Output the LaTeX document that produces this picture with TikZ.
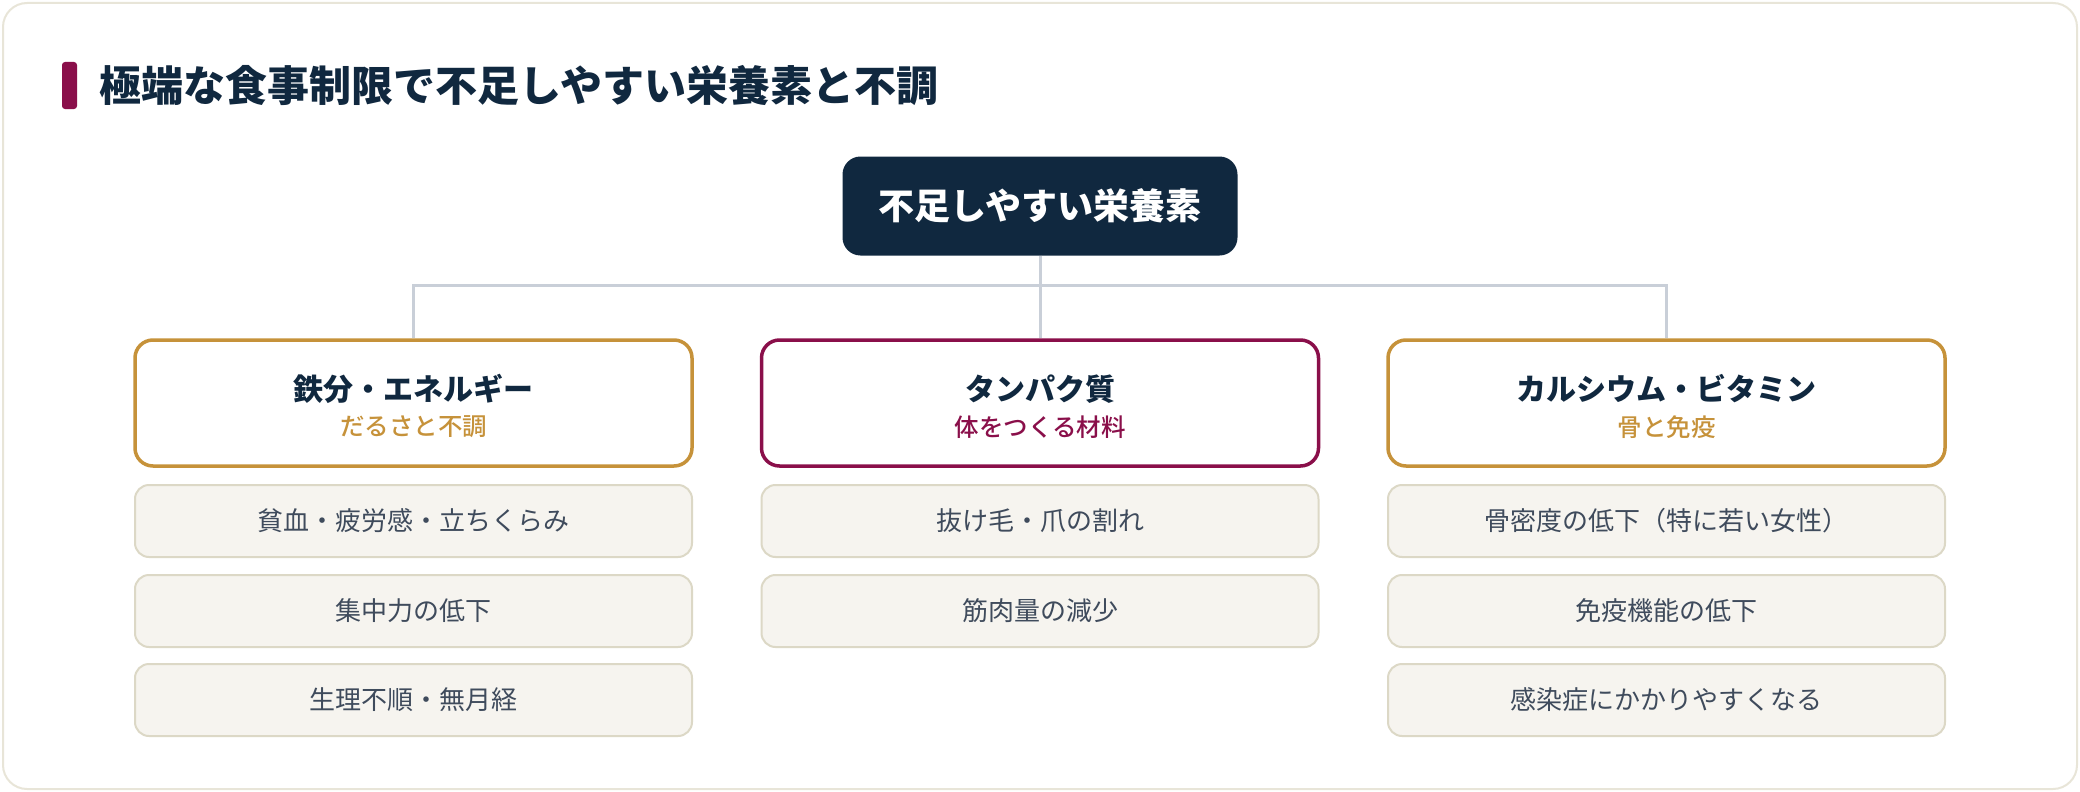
\documentclass[tikz,border=0pt]{standalone}
\usepackage{fontspec}
\setmainfont{Noto Sans CJK JP}
\newfontfamily\midweight{Noto Sans CJK JP Medium}
\definecolor{navy}{HTML}{10283F}
\definecolor{berry}{HTML}{8A0F4A}
\definecolor{ochre}{HTML}{C6923A}
\definecolor{wire}{HTML}{C9CFD8}
\definecolor{paper}{HTML}{F6F4EF}
\definecolor{rim}{HTML}{DCD8C6}
\definecolor{ink}{HTML}{3F4B5C}
\definecolor{frame}{HTML}{E8E5D8}
\begin{document}
\begin{tikzpicture}[x=1pt, y=-1pt]
  \tikzstyle{catbox}=[draw, line width=3.5pt, rounded corners=18pt, fill=white,
    minimum width=557pt, minimum height=126pt, inner sep=0pt]
  \tikzstyle{itembox}=[draw=rim, line width=2pt, rounded corners=14pt, fill=paper,
    minimum width=557pt, minimum height=72pt, inner sep=0pt,
    text=ink, font=\fontsize{26}{30}\selectfont]
  \tikzstyle{cathead}=[text=navy, font=\fontsize{30}{35}\selectfont\bfseries]
  \tikzstyle{catsub}=[font=\fontsize{24.5}{29}\midweight]
  \tikzstyle{link}=[draw=wire, line width=3pt]

  % card and heading
  \draw[frame, line width=2pt, fill=white, rounded corners=24pt] (3, 3) rectangle (2077, 789);
  \useasboundingbox (0, 0) rectangle (2080, 792);
  \fill[berry, rounded corners=3pt] (62, 62) rectangle (77, 109);
  \node[anchor=west, inner sep=0pt, text=navy, font=\fontsize{42}{50}\selectfont\bfseries]
    (head) at (99, 86) {極端な食事制限で不足しやすい栄養素と不調};

  % root
  \coordinate (hub) at (1040, 285);
  \node[fill=navy, rounded corners=18pt, minimum width=395pt, minimum height=99pt,
    text=white, font=\fontsize{36}{42}\selectfont\bfseries] (root) at (1040, 206) {不足しやすい栄養素};

  % categories
  \node[catbox, draw=ochre] (c1) at (413.5, 403) {};
  \node[cathead] (t1) at (413.5, 389) {鉄分・エネルギー};
  \node[catsub, text=ochre] (s1) at (413.5, 427) {だるさと不調};

  \node[catbox, draw=berry] (c2) at (1040, 403) {};
  \node[cathead] (t2) at (1040, 389) {タンパク質};
  \node[catsub, text=berry] (s2) at (1040, 427) {体をつくる材料};

  \node[catbox, draw=ochre] (c3) at (1666.5, 403) {};
  \node[cathead] (t3) at (1666.5, 389) {カルシウム・ビタミン};
  \node[catsub, text=ochre] (s3) at (1666.5, 427) {骨と免疫};

  \draw[link] (root.south) -- (c2.north);
  \draw[link] (c1.north) |- (hub) -| (c3.north);

  % symptoms
  \node[itembox] (i11) at (413.5, 521) {貧血・疲労感・立ちくらみ};
  \node[itembox] (i12) at (413.5, 611) {集中力の低下};
  \node[itembox] (i13) at (413.5, 700) {生理不順・無月経};

  \node[itembox] (i21) at (1040, 521) {抜け毛・爪の割れ};
  \node[itembox] (i22) at (1040, 611) {筋肉量の減少};

  \node[itembox] (i31) at (1666.5, 521) {骨密度の低下（特に若い女性）};
  \node[itembox] (i32) at (1666.5, 611) {免疫機能の低下};
  \node[itembox] (i33) at (1666.5, 700) {感染症にかかりやすくなる};
\end{tikzpicture}
\end{document}
